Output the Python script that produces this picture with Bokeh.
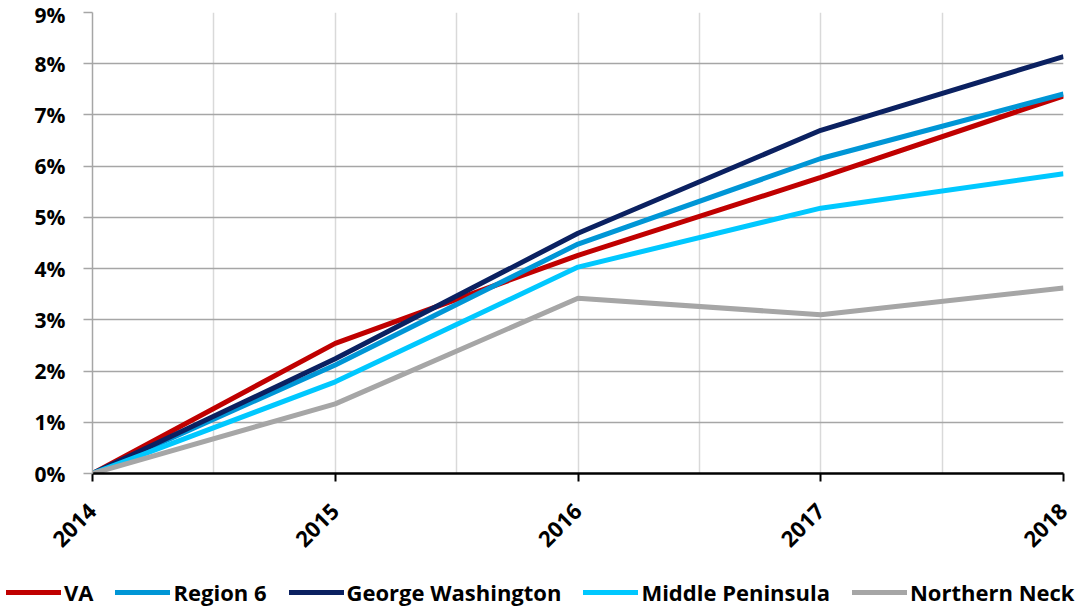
from bokeh.plotting import figure
from bokeh.layouts import column
from bokeh.models import (FixedTicker, PrintfTickFormatter, Legend, LegendItem,
                          Range1d)
from bokeh.embed import file_html
from bokeh.resources import INLINE
import math

# Cumulative growth since 2014, in percent
years = [2014, 2015, 2016, 2017, 2018]
va = [0, 2.54, 4.26, 5.78, 7.37]
region6 = [0, 2.12, 4.48, 6.15, 7.41]
george_washington = [0, 2.24, 4.69, 6.70, 8.14]
middle_peninsula = [0, 1.79, 4.03, 5.18, 5.85]
northern_neck = [0, 1.36, 3.42, 3.10, 3.62]

series_names = ["VA", "Region 6", "George Washington", "Middle Peninsula", "Northern Neck"]
series_values = [va, region6, george_washington, middle_peninsula, northern_neck]
series_colors = ["#C00000", "#0096D6", "#0B2161", "#00C8FF", "#A6A6A6"]

y_ticks = list(range(0, 10))
x_grid_ticks = [2014, 2014.5, 2015, 2015.5, 2016, 2016.5, 2017, 2017.5, 2018]

FONT = "Open Sans"
LINE_W = 5

p = figure(width=1088, height=565, output_backend="svg", toolbar_location=None,
           x_range=Range1d(2014, 2018), y_range=Range1d(0, 9),
           min_border_left=92, min_border_right=25, min_border_top=12,
           min_border_bottom=92)
p.outline_line_color = None
p.background_fill_color = "white"
p.border_fill_color = "white"

for vals, col in zip(series_values, series_colors):
    p.line(years, vals, line_color=col, line_width=LINE_W)

# Grids
p.ygrid.ticker = FixedTicker(ticks=y_ticks)
p.ygrid.grid_line_color = "#A6A6A6"
p.ygrid.grid_line_width = 1.5
p.xgrid.ticker = FixedTicker(ticks=x_grid_ticks)
p.xgrid.grid_line_color = "#D9D9D9"
p.xgrid.grid_line_width = 1.5

# Y axis
p.yaxis.ticker = FixedTicker(ticks=y_ticks)
p.yaxis.formatter = PrintfTickFormatter(format="%d%%")
p.yaxis.axis_line_color = "#A6A6A6"
p.yaxis.axis_line_width = 1.5
p.yaxis.major_tick_line_color = "#A6A6A6"
p.yaxis.major_tick_line_width = 1.5
p.yaxis.major_tick_out = 9
p.yaxis.major_tick_in = 0
p.yaxis.minor_tick_line_color = None
p.yaxis.major_label_text_font = FONT
p.yaxis.major_label_text_font_style = "bold"
p.yaxis.major_label_text_font_size = "21px"
p.yaxis.major_label_text_color = "black"
p.yaxis.major_label_standoff = 18

# X axis
p.xaxis.ticker = FixedTicker(ticks=years)
p.xaxis.axis_line_color = "black"
p.xaxis.axis_line_width = 2.5
p.xaxis.major_tick_line_color = "black"
p.xaxis.major_tick_line_width = 2
p.xaxis.major_tick_out = 8
p.xaxis.major_tick_in = 0
p.xaxis.minor_tick_line_color = None
p.xaxis.major_label_orientation = math.pi / 4
p.xaxis.major_label_text_font = FONT
p.xaxis.major_label_text_font_style = "bold"
p.xaxis.major_label_text_font_size = "22px"
p.xaxis.major_label_text_color = "black"
p.xaxis.major_label_standoff = 26

# Legend strip below the chart; its lines sit outside the strip's visible range
leg = figure(width=1088, height=42, output_backend="svg", toolbar_location=None,
             x_range=Range1d(0, 1), y_range=Range1d(0, 1),
             x_axis_location=None, y_axis_location=None,
             min_border=0, outline_line_color=None)
leg.frame_align = False
leg.grid.visible = False
items = []
for name, vals, col in zip(series_names, series_values, series_colors):
    r = leg.line(years, vals, line_color=col, line_width=LINE_W, line_cap="round")
    items.append(LegendItem(label=name, renderers=[r]))

legend = Legend(items=items, orientation="horizontal", location=(6, 0),
                glyph_width=55, glyph_height=20, label_standoff=3, spacing=22,
                padding=0, margin=0, border_line_color=None,
                background_fill_alpha=0,
                label_text_font=FONT, label_text_font_style="bold",
                label_text_font_size="22px", label_text_color="black")
leg.add_layout(legend, "center")

layout = column(p, leg, spacing=0)
open("out.html", "w").write(file_html(layout, INLINE))
